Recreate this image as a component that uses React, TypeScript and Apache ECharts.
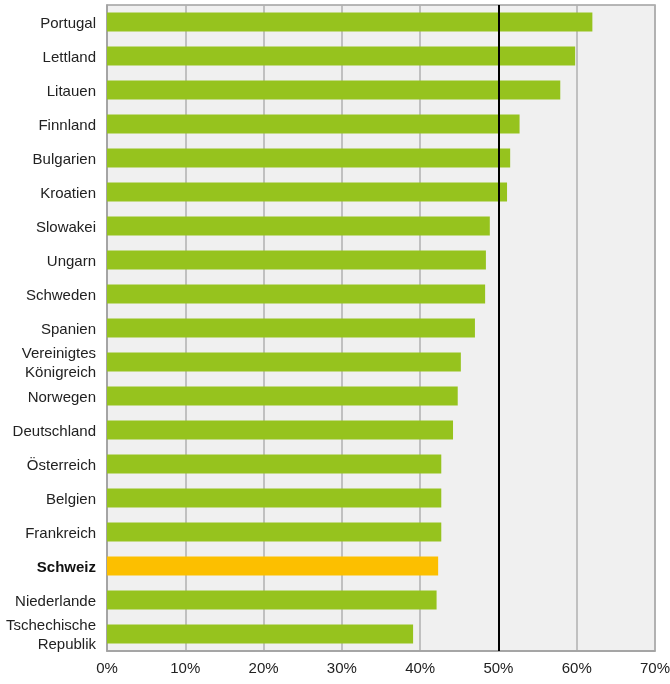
import React, { useEffect, useRef } from "react";
import * as echarts from "echarts";

const categories = [
  "Portugal", "Lettland", "Litauen", "Finnland", "Bulgarien", "Kroatien", "Slowakei",
  "Ungarn", "Schweden", "Spanien", "Vereinigtes\nKönigreich", "Norwegen", "Deutschland",
  "Österreich", "Belgien", "Frankreich", "Schweiz", "Niederlande", "Tschechische\nRepublik",
];
const values = [
  62.0, 59.8, 57.9, 52.7, 51.5, 51.1, 48.9, 48.4, 48.3, 47.0, 45.2, 44.8, 44.2,
  42.7, 42.7, 42.7, 42.3, 42.1, 39.1,
];
const highlight = "Schweiz";
const xTicks = { min: 0, max: 70, interval: 10 };
const referenceLine = 50;

const FONT = "'Liberation Sans', Arial, sans-serif";

export default function App() {
  const ref = useRef<HTMLDivElement>(null);
  useEffect(() => {
    if (!ref.current) return;
    const chart = echarts.init(ref.current, undefined, { renderer: "svg" });
    chart.setOption({
      animation: false,
      grid: {
        left: 107, right: 15, top: 5, bottom: 33,
        containLabel: false, outerBoundsMode: "none",
        show: true, backgroundColor: "#f0f0f0", borderColor: "#a0a0a0", borderWidth: 1.5,
      },
      xAxis: {
        type: "value", min: xTicks.min, max: xTicks.max, interval: xTicks.interval,
        axisLine: { show: true, lineStyle: { color: "#a0a0a0", width: 1.5 } },
        axisTick: { show: false },
        splitLine: { show: true, lineStyle: { color: "#b0b0b0", width: 1.5 } },
        axisLabel: {
          formatter: "{value}%", color: "#222", fontSize: 15, fontFamily: FONT, margin: 9,
        },
      },
      yAxis: {
        type: "category", data: categories, inverse: true,
        axisLine: { show: true, lineStyle: { color: "#a0a0a0", width: 1.5 } },
        axisTick: { show: false },
        splitLine: { show: false },
        axisLabel: {
          color: "#222", fontSize: 15, fontFamily: FONT, margin: 11, lineHeight: 19,
          formatter: (v: string) => (v === highlight ? `{b|${v}}` : v),
          rich: { b: { fontWeight: "bold", fontSize: 15, fontFamily: FONT, color: "#111" } },
        },
      },
      series: [
        {
          type: "bar",
          barWidth: 19,
          data: values.map((v, i) => ({
            value: v,
            itemStyle: { color: categories[i] === highlight ? "#fcbf00" : "#96c31e" },
          })),
          markLine: {
            silent: true, symbol: "none", label: { show: false },
            lineStyle: { color: "#000", width: 2, type: "solid" },
            data: [{ xAxis: referenceLine }],
          },
        },
      ],
    });
    return () => chart.dispose();
  }, []);
  return <div ref={ref} style={{ position: "fixed", left: 0, top: 0, width: 670, height: 684 }} />;
}
